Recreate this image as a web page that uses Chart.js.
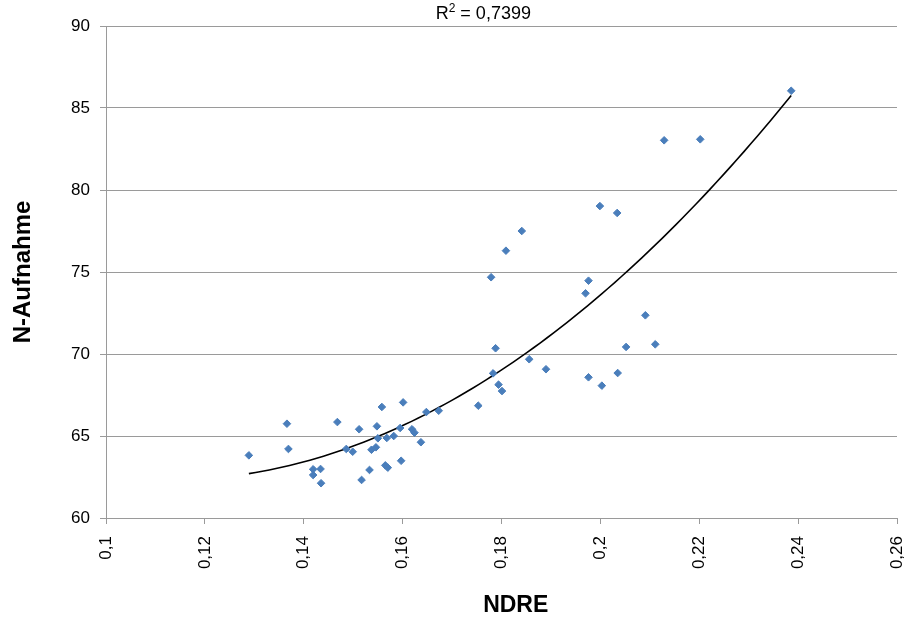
<!DOCTYPE html>
<html>
<head>
<meta charset="utf-8">
<script src="https://cdn.jsdelivr.net/npm/chart.js@4/dist/chart.umd.min.js"></script>
<style>
  html, body { margin: 0; padding: 0; background: #ffffff; }
  #wrap { width: 918px; height: 626px; position: relative; }
</style>
</head>
<body>
<div id="wrap"><canvas id="c" width="918" height="626"></canvas></div>
<script>
// ---- data ----
const ndre = [0.1289,0.1366,0.1369,0.1419,0.1434,0.1419,0.1435,0.1468,0.1486,0.1499,
              0.1512,0.1517,0.1533,0.1537,0.1546,0.1548,0.1550,0.1558,0.1565,0.1570,
              0.1568,0.1582,0.1595,0.1597,0.1601,0.1619,0.1624,0.1637,0.1648,0.1673,
              0.1753,0.1779,0.1788,0.1783,0.1794,0.1801,0.1809,0.1841,0.1856,0.1890,
              0.1970,0.1976,0.1976,0.2003,0.2035,0.2052,0.2091,0.2111,0.1999,0.2034,
              0.2129,0.2202,0.2386];
const nAufnahme = [63.82,65.75,64.21,62.97,62.99,62.62,62.12,65.85,64.21,64.04,
                   65.41,62.32,62.93,64.16,64.31,65.59,64.86,66.77,63.21,63.07,
                   64.88,65.00,65.49,63.49,67.05,65.41,65.20,64.62,66.46,66.54,
                   66.85,74.68,70.35,68.82,68.13,67.74,76.30,77.50,69.68,69.07,
                   73.70,74.47,68.58,68.07,68.84,70.43,72.36,70.59,79.02,78.60,
                   83.03,83.09,86.05];
const xTitle = "NDRE";
const yTitle = "N-Aufnahme";
const r2Label = ["R", "2", " = 0,7399"];
const xMin = 0.1, xMax = 0.26, xStep = 0.02;
const yMin = 60, yMax = 90, yStep = 5;

// ---- polynomial (order 2) trendline fitted to the data ----
function quadFit(xs, ys) {
  const n = xs.length;
  const m = xs.reduce((a, b) => a + b, 0) / n;
  let s = [0,0,0,0,0], t = [0,0,0];
  for (let i = 0; i < n; i++) {
    const u = xs[i] - m;
    let p = 1;
    for (let k = 0; k < 5; k++) { s[k] += p; if (k < 3) t[k] += p * ys[i]; p *= u; }
  }
  const A = [[s[0], s[1], s[2], t[0]], [s[1], s[2], s[3], t[1]], [s[2], s[3], s[4], t[2]]];
  for (let i = 0; i < 3; i++) {
    for (let j = i + 1; j < 3; j++) {
      const f = A[j][i] / A[i][i];
      for (let k = i; k < 4; k++) A[j][k] -= f * A[i][k];
    }
  }
  const c = [0,0,0];
  for (let i = 2; i >= 0; i--) {
    let v = A[i][3];
    for (let k = i + 1; k < 3; k++) v -= A[i][k] * c[k];
    c[i] = v / A[i][i];
  }
  return x => { const u = x - m; return c[0] + c[1] * u + c[2] * u * u; };
}
const trend = quadFit(ndre, nAufnahme);
const tMin = Math.min(...ndre), tMax = Math.max(...ndre);
const trendPts = [];
for (let i = 0; i <= 80; i++) {
  const x = tMin + (tMax - tMin) * i / 80;
  trendPts.push({ x: x, y: trend(x) });
}

const points = ndre.map((x, i) => ({ x: x, y: nAufnahme[i] }));
const FONT = "'Liberation Sans', Arial, sans-serif";
const GRID = '#9a9a9a';

const textPlugin = {
  id: 'extraText',
  afterDraw(chart) {
    const ctx = chart.ctx, a = chart.chartArea;
    ctx.save();
    ctx.fillStyle = '#000';
    ctx.textBaseline = 'alphabetic';
    ctx.textAlign = 'left';
    // R² label of the trendline
    const big = '18px ' + FONT, small = '12px ' + FONT;
    ctx.font = big; const w1 = ctx.measureText(r2Label[0]).width, w3 = ctx.measureText(r2Label[2]).width;
    ctx.font = small; const w2 = ctx.measureText(r2Label[1]).width;
    const cx = a.left + a.width * 0.477;
    let x = cx - (w1 + w2 + w3) / 2;
    const y = a.top - 7;
    ctx.font = big; ctx.fillText(r2Label[0], x, y); x += w1;
    ctx.font = small; ctx.fillText(r2Label[1], x, y - 7); x += w2;
    ctx.font = big; ctx.fillText(r2Label[2], x, y);
    // x-axis title
    ctx.font = 'bold 23px ' + FONT;
    ctx.textAlign = 'center';
    ctx.textBaseline = 'middle';
    ctx.fillText(xTitle, a.left + a.width * 0.518, 606);
    ctx.restore();
  }
};

const fmt = v => (Math.round(v * 100) / 100).toString().replace('.', ',');

new Chart(document.getElementById('c'), {
  type: 'scatter',
  data: {
    datasets: [
      {
        label: yTitle,
        data: points,
        pointStyle: 'rectRot',
        pointRadius: 3.8,
        pointHoverRadius: 3.8,
        backgroundColor: '#4A7EBB',
        borderColor: '#4A7EBB',
        borderWidth: 1,
        order: 1
      },
      {
        label: 'Trend',
        data: trendPts,
        showLine: true,
        pointRadius: 0,
        borderColor: '#000000',
        borderWidth: 1.6,
        tension: 0,
        fill: false,
        order: 2
      }
    ]
  },
  options: {
    responsive: false,
    animation: false,
    events: [],
    layout: { padding: { top: 26, right: 21, left: 0, bottom: 0 } },
    plugins: {
      legend: { display: false },
      tooltip: { enabled: false },
      title: { display: false }
    },
    scales: {
      x: {
        type: 'linear',
        min: xMin, max: xMax,
        afterFit: s => { s.height = 108; s.paddingLeft = 0; s.paddingRight = 0; },
        ticks: {
          stepSize: xStep,
          minRotation: 90, maxRotation: 90,
          padding: 12,
          color: '#000',
          font: { family: FONT, size: 17 },
          callback: v => fmt(v)
        },
        grid: { display: true, drawOnChartArea: false, drawTicks: true, tickLength: 6, color: GRID, lineWidth: 1 },
        border: { display: true, color: GRID, width: 1 },
        title: { display: false }
      },
      y: {
        type: 'linear',
        min: yMin, max: yMax,
        afterFit: s => { s.width = 106; s.paddingTop = 0; s.paddingBottom = 0; },
        ticks: {
          stepSize: yStep,
          padding: 10,
          color: '#000',
          font: { family: FONT, size: 17 },
          callback: v => fmt(v)
        },
        grid: { display: true, drawTicks: true, tickLength: 6, color: GRID, lineWidth: 1 },
        border: { display: true, color: GRID, width: 1 },
        title: { display: true, text: yTitle, color: '#000', font: { family: FONT, size: 24, weight: 'bold' }, padding: { top: 9, bottom: 0 } }
      }
    }
  },
  plugins: [textPlugin]
});
</script>
</body>
</html>
